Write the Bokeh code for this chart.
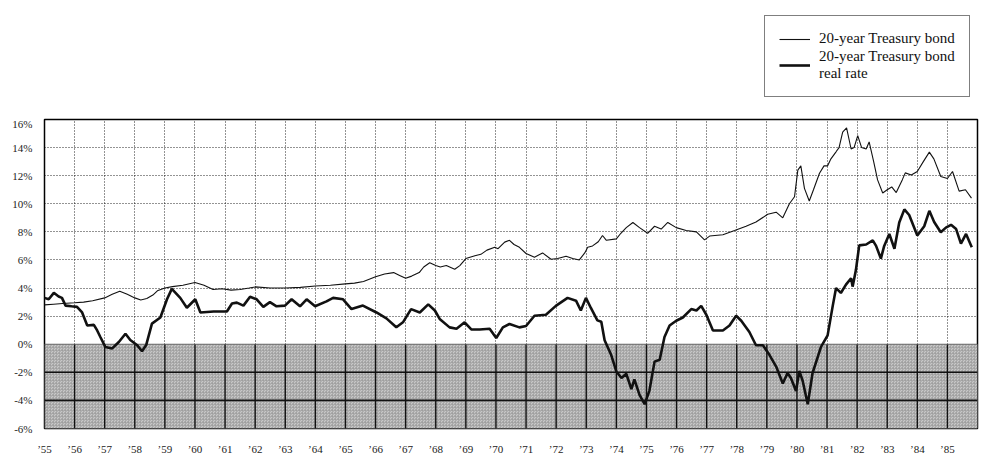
from bokeh.plotting import figure
from bokeh.layouts import column
from bokeh.models import (FixedTicker, PrintfTickFormatter, BoxAnnotation,
                          Legend, LegendItem, Range1d)
from bokeh.embed import file_html
from bokeh.resources import INLINE

# ---- data ----
nominal_years = [1955.0, 1955.3, 1955.6, 1956.0, 1956.3, 1956.6, 1957.0, 1957.25, 1957.5, 1957.75,
                 1958.0, 1958.2, 1958.4, 1958.6, 1958.75, 1959.0, 1959.25, 1959.6, 1960.0, 1960.3,
                 1960.6, 1960.9, 1961.2, 1961.5, 1961.8, 1962.0, 1962.5, 1963.0, 1963.5, 1964.0,
                 1964.5, 1965.0, 1965.3, 1965.6, 1966.0, 1966.3, 1966.6, 1966.8, 1967.0, 1967.2,
                 1967.45, 1967.6, 1967.8, 1968.0, 1968.15, 1968.35, 1968.63, 1968.8, 1969.0, 1969.3,
                 1969.5, 1969.7, 1969.96, 1970.07, 1970.29, 1970.45, 1970.6, 1970.78, 1971.0, 1971.28,
                 1971.55, 1971.83, 1972.05, 1972.33, 1972.55, 1972.77, 1972.95, 1973.05, 1973.21, 1973.4,
                 1973.54, 1973.67, 1974.0, 1974.15, 1974.33, 1974.55, 1974.77, 1975.04, 1975.27, 1975.49,
                 1975.71, 1975.99, 1976.32, 1976.66, 1976.93, 1977.1, 1977.54, 1977.93, 1978.31, 1978.64,
                 1979.03, 1979.31, 1979.53, 1979.75, 1979.92, 1980.03, 1980.13, 1980.25, 1980.41, 1980.55,
                 1980.75, 1980.9, 1981.02, 1981.13, 1981.3, 1981.4, 1981.52, 1981.65, 1981.8, 1981.9,
                 1982.02, 1982.15, 1982.3, 1982.4, 1982.55, 1982.68, 1982.85, 1983.0, 1983.15, 1983.3,
                 1983.5, 1983.6, 1983.8, 1984.0, 1984.2, 1984.4, 1984.55, 1984.78, 1985.0, 1985.17,
                 1985.39, 1985.6, 1985.8]
nominal_rate = [2.8, 2.85, 2.9, 2.95, 3.0, 3.1, 3.3, 3.55, 3.78, 3.55,
                3.3, 3.15, 3.25, 3.5, 3.8, 4.0, 4.1, 4.2, 4.4, 4.2,
                3.9, 3.95, 3.85, 3.9, 4.0, 4.08, 4.0, 4.0, 4.05, 4.15,
                4.2, 4.3, 4.35, 4.47, 4.8, 5.0, 5.1, 4.9, 4.7, 4.85,
                5.1, 5.5, 5.8, 5.6, 5.5, 5.6, 5.34, 5.6, 6.1, 6.3,
                6.4, 6.7, 6.9, 6.8, 7.27, 7.4, 7.1, 6.9, 6.46, 6.2,
                6.5, 6.05, 6.1, 6.27, 6.1, 6.0, 6.5, 6.9, 7.0, 7.3,
                7.74, 7.4, 7.5, 7.9, 8.3, 8.67, 8.3, 7.9, 8.4, 8.2,
                8.67, 8.3, 8.1, 8.0, 7.43, 7.7, 7.8, 8.1, 8.4, 8.7,
                9.25, 9.4, 9.0, 10.0, 10.5, 12.4, 12.7, 11.1, 10.2, 11.0,
                12.17, 12.7, 12.7, 13.2, 13.7, 14.0, 15.1, 15.4, 13.9, 14.0,
                14.85, 14.0, 13.9, 14.4, 13.0, 11.7, 10.77, 11.0, 11.2, 10.8,
                11.7, 12.2, 12.05, 12.3, 13.0, 13.68, 13.2, 11.94, 11.8, 12.3,
                10.9, 11.0, 10.4]

real_years = [1955.0, 1955.14, 1955.31, 1955.47, 1955.58, 1955.7, 1955.9, 1956.08, 1956.25, 1956.42,
              1956.64, 1956.75, 1956.86, 1957.02, 1957.25, 1957.47, 1957.69, 1957.85, 1958.07, 1958.24,
              1958.38, 1958.57, 1958.85, 1959.07, 1959.23, 1959.51, 1959.73, 1960.01, 1960.18, 1960.62,
              1961.06, 1961.23, 1961.39, 1961.61, 1961.83, 1962.05, 1962.27, 1962.49, 1962.71, 1962.99,
              1963.21, 1963.49, 1963.71, 1963.99, 1964.37, 1964.59, 1964.92, 1965.2, 1965.58, 1966.03,
              1966.36, 1966.69, 1966.91, 1967.18, 1967.47, 1967.75, 1967.97, 1968.13, 1968.46, 1968.69,
              1968.96, 1969.18, 1969.46, 1969.79, 1970.01, 1970.23, 1970.45, 1970.78, 1971.0, 1971.28,
              1971.66, 1971.99, 1972.38, 1972.66, 1972.82, 1972.99, 1973.15, 1973.37, 1973.5, 1973.61,
              1973.83, 1974.0, 1974.17, 1974.33, 1974.5, 1974.6, 1974.77, 1974.94, 1975.1, 1975.27,
              1975.44, 1975.6, 1975.77, 1975.99, 1976.21, 1976.49, 1976.66, 1976.82, 1976.99, 1977.21,
              1977.54, 1977.76, 1977.98, 1978.15, 1978.42, 1978.64, 1978.87, 1979.09, 1979.31, 1979.53,
              1979.69, 1979.8, 1979.97, 1980.08, 1980.19, 1980.36, 1980.52, 1980.8, 1981.02, 1981.19,
              1981.3, 1981.46, 1981.63, 1981.8, 1981.85, 1981.96, 1982.07, 1982.3, 1982.52, 1982.63,
              1982.79, 1982.9, 1983.07, 1983.24, 1983.4, 1983.57, 1983.73, 1984.0, 1984.23, 1984.4,
              1984.56, 1984.78, 1984.95, 1985.12, 1985.29, 1985.45, 1985.62, 1985.81]
real_rate = [3.3, 3.2, 3.66, 3.4, 3.3, 2.75, 2.7, 2.66, 2.26, 1.33,
             1.38, 0.98, 0.5, -0.19, -0.3, 0.16, 0.75, 0.3, -0.05, -0.5,
             -0.05, 1.47, 1.9, 3.2, 3.94, 3.3, 2.6, 3.2, 2.26, 2.33,
             2.33, 2.9, 2.96, 2.75, 3.38, 3.2, 2.66, 3.0, 2.7, 2.75,
             3.2, 2.7, 3.2, 2.7, 3.05, 3.3, 3.2, 2.5, 2.75, 2.26,
             1.84, 1.21, 1.56, 2.5, 2.26, 2.84, 2.4, 1.8, 1.2, 1.1,
             1.56, 1.05, 1.05, 1.1, 0.44, 1.2, 1.44, 1.2, 1.3, 2.03,
             2.1, 2.73, 3.3, 3.1, 2.4, 3.3, 2.6, 1.7, 1.6, 0.28,
             -0.77, -1.94, -2.4, -2.1, -3.2, -2.5, -3.6, -4.27, -3.3, -1.24,
             -1.1, 0.51, 1.33, 1.67, 1.9, 2.5, 2.4, 2.73, 2.1, 0.98,
             0.98, 1.33, 2.03, 1.67, 0.87, -0.07, -0.07, -0.77, -1.59, -2.8,
             -2.05, -2.4, -3.33, -1.9, -2.6, -4.27, -2.05, -0.19, 0.63, 2.73,
             4.0, 3.65, 4.24, 4.7, 4.1, 5.28, 7.04, 7.1, 7.39, 7.0,
             6.1, 7.0, 7.85, 6.8, 8.67, 9.6, 9.2, 7.74, 8.4, 9.5,
             8.7, 7.97, 8.3, 8.5, 8.2, 7.16, 7.85, 6.9]

year_ticks = list(range(1955, 1986))
year_labels = ["\u2019%02d" % (y % 100) for y in year_ticks]
pct_ticks = list(range(-6, 17, 2))
upper_grid = [0, 2, 4, 6, 8, 10, 12, 14]
lower_grid = [-4, -2]
shade_top, shade_bottom = 0, -6
x_start, x_end = 1955, 1986
y_start, y_end = -6, 16

label_nominal = "20-year Treasury bond"
label_real = "20-year Treasury bond\nreal rate"

SERIF = "Liberation Serif"
INK = "#111111"
NOM_W, REAL_W = 1.1, 2.6

W = 992
TOP_H = 117

# ---- main chart ----
p = figure(width=W, height=340, output_backend="svg", toolbar_location=None,
           x_range=Range1d(x_start, x_end), y_range=Range1d(y_start, y_end),
           min_border_left=44, min_border_right=15, min_border_top=2,
           min_border_bottom=20)
p.background_fill_color = "white"
p.border_fill_color = "white"
p.outline_line_color = "black"
p.outline_line_width = 1.5

p.xaxis.ticker = FixedTicker(ticks=year_ticks)
p.xaxis.major_label_overrides = {y: l for y, l in zip(year_ticks, year_labels)}
p.yaxis.ticker = FixedTicker(ticks=pct_ticks)
p.yaxis.formatter = PrintfTickFormatter(format="%d%%")
for ax in (p.xaxis[0], p.yaxis[0]):
    ax.axis_line_color = None
    ax.major_tick_line_color = None
    ax.minor_tick_line_color = None
    ax.major_label_text_font = SERIF
    ax.major_label_text_color = "#222222"
p.xaxis.major_label_text_font_size = "11px"
p.yaxis.major_label_text_font_size = "11px"
p.xaxis.major_label_standoff = 8
p.yaxis.major_label_standoff = 6

p.xgrid.ticker = FixedTicker(ticks=year_ticks)
p.ygrid.ticker = FixedTicker(ticks=upper_grid)
for g in (p.xgrid[0], p.ygrid[0]):
    g.grid_line_color = "black"
    g.grid_line_dash = "1 2"
    g.grid_line_width = 1
    g.grid_line_alpha = 0.85

shade = BoxAnnotation(top=shade_top, bottom=shade_bottom, fill_color="#c8c8c8",
                      fill_alpha=1.0, line_color=None, level="underlay",
                      hatch_pattern="criss_cross", hatch_color="#9c9c9c",
                      hatch_scale=3, hatch_weight=0.6)
p.add_layout(shade)

p.segment(x0=year_ticks, y0=[shade_bottom] * len(year_ticks),
          x1=year_ticks, y1=[shade_top] * len(year_ticks),
          line_color=INK, line_width=1.4)
p.segment(x0=[x_start] * len(lower_grid), y0=lower_grid,
          x1=[x_end] * len(lower_grid), y1=lower_grid,
          line_color=INK, line_width=1.6)
p.segment(x0=[x_start], y0=[shade_top], x1=[x_end], y1=[shade_top],
          line_color="#555555", line_width=0.8)

p.line(nominal_years, nominal_rate, line_color=INK, line_width=NOM_W)
p.line(real_years, real_rate, line_color=INK, line_width=REAL_W)

# ---- legend strip above the chart (frame aligned with the chart's frame) ----
top = figure(width=W, height=TOP_H, output_backend="svg", toolbar_location=None,
             x_range=Range1d(0, 1), y_range=Range1d(0, 1), min_border=0)
top.axis.visible = False
top.grid.visible = False
top.outline_line_color = None
top.background_fill_color = "white"
top.border_fill_color = "white"
# legend proxies: same styling as the chart lines, their point lies outside this strip's range
l_nom = top.line(nominal_years[:1], nominal_rate[:1], line_color=INK, line_width=NOM_W)
l_real = top.line(real_years[:1], real_rate[:1], line_color=INK, line_width=REAL_W)

legend = Legend(items=[LegendItem(label=label_nominal, renderers=[l_nom]),
                       LegendItem(label=label_real, renderers=[l_real])],
                location=(720, 20))
legend.label_text_font = SERIF
legend.label_text_font_size = "15px"
legend.label_text_color = INK
legend.label_height = 16
legend.glyph_height = 16
legend.border_line_color = "black"
legend.border_line_width = 1.5
legend.background_fill_color = "white"
legend.background_fill_alpha = 1.0
legend.glyph_width = 31
legend.label_standoff = 9
legend.padding = 14
legend.spacing = 1
legend.margin = 0
top.add_layout(legend)

layout = column(top, p, spacing=0)
open("out.html", "w").write(file_html(layout, INLINE))
